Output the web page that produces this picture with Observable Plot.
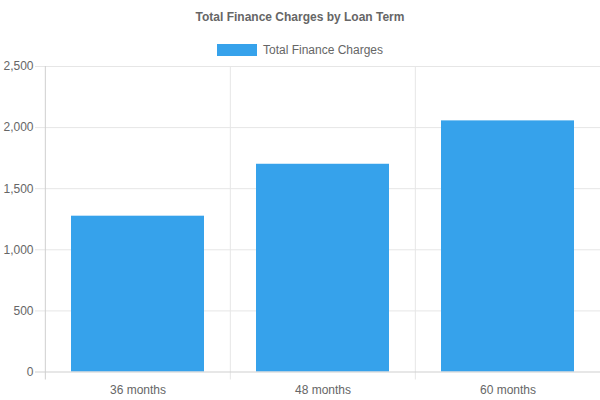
<!DOCTYPE html>
<html>
<head>
<meta charset="utf-8">
<script src="https://cdn.jsdelivr.net/npm/d3@7"></script>
<script src="https://cdn.jsdelivr.net/npm/@observablehq/plot@0.6"></script>
<style>
  body { margin: 0; background: #fff; font-family: "Liberation Sans", Arial, Helvetica, sans-serif; color: #666; }
  #wrap { width: 600px; height: 400px; overflow: hidden; }
  #title { height: 34px; line-height: 34px; text-align: center; font-weight: bold; font-size: 12px; color: #666; }
  #legend { height: 24px; box-sizing: border-box; padding-top: 10px; display: flex; justify-content: center; align-items: flex-start; font-size: 12px; line-height: 12px; }
  #legend .box { width: 40px; height: 12px; margin-right: 6px; }
  svg { display: block; }
</style>
</head>
<body>
<div id="wrap">
  <div id="title">Total Finance Charges by Loan Term</div>
  <div id="legend"><span class="box"></span><span class="lbl"></span></div>
  <div id="chart"></div>
</div>
<script>
const terms = ["36 months", "48 months", "60 months"];
const charges = [1275, 1700, 2055];
const yTicks = [0, 500, 1000, 1500, 2000, 2500];
const seriesName = "Total Finance Charges";
const barColor = "#36A2EB";

document.querySelector("#legend .box").style.background = barColor;
document.querySelector("#legend .lbl").textContent = seriesName;

const data = terms.map((t, i) => ({term: t, charges: charges[i]}));

const width = 600, height = 342, marginLeft = 44, marginRight = 0, marginTop = 8, marginBottom = 28.5;
const bw = (width - marginLeft - marginRight) / terms.length;

const chart = Plot.plot({
  width, height, marginLeft, marginRight, marginTop, marginBottom,
  style: {fontSize: "12px", fontFamily: '"Liberation Sans", Arial, Helvetica, sans-serif', color: "#666", background: "#fff"},
  x: {type: "band", domain: terms, padding: 0, label: null},
  y: {domain: [0, 2500], label: null},
  marks: [
    Plot.ruleY(yTicks.filter(d => d !== 0), {stroke: "#e6e6e6", insetLeft: -9}),
    Plot.ruleX(terms.slice(1), {x: d => d, dx: -bw / 2, stroke: "#e6e6e6", insetBottom: -8}),
    Plot.ruleX(terms.slice(0, 1), {x: d => d, dx: -bw / 2, stroke: "#cfcfcf", insetBottom: -8}),
    Plot.barY(data, {x: "term", y: "charges", fill: barColor, insetLeft: 26, insetRight: 26}),
    Plot.ruleY([0], {stroke: "#cfcfcf", insetLeft: -9}),
    Plot.axisY({ticks: yTicks, tickFormat: d3.format(","), tickSize: 0, tickPadding: 11, label: null, fill: "#666"}),
    Plot.axisX({tickSize: 0, tickPadding: 13, label: null, fill: "#666"})
  ]
});
document.getElementById("chart").appendChild(chart);
</script>
</body>
</html>
